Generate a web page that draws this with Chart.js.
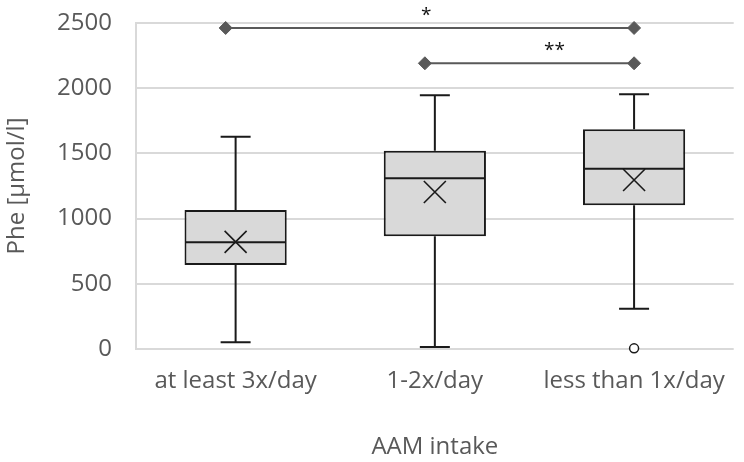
<!DOCTYPE html>
<html>
<head>
<meta charset="utf-8">
<script src="https://cdn.jsdelivr.net/npm/chart.js@4.4.1/dist/chart.umd.min.js"></script>
<style>
html,body{margin:0;padding:0;background:#fff;}
#wrap{width:744px;height:462px;position:relative;}
</style>
</head>
<body>
<div id="wrap"><canvas id="c"></canvas></div>
<script>
// ---- data ----
const categories = ['at least 3x/day', '1-2x/day', 'less than 1x/day'];
const whiskerMin = [51, 15, 309];
const q1         = [644, 864, 1102];
const median     = [818, 1309, 1383];
const q3         = [1066, 1521, 1685];
const whiskerMax = [1628, 1946, 1953];
const mean       = [822, 1204, 1296];
const outliers   = [[], [], [5]];

// significance brackets (x in category-index units)
const sig1X = [-0.05, 2.0];
const sig1Y = [2462, 2462];
const sig2X = [0.95, 2.0];
const sig2Y = [2191, 2191];
const sigLabels = ['*', '**'];
const sigLabelX = [0.957, 1.6];
const sigLabelY = [2462, 2191];

const yTicks = [0, 500, 1000, 1500, 2000, 2500];

const FONT = '"Open Sans", "DejaVu Sans", sans-serif';
const TXT = '#595959';

const boxPlugin = {
  id: 'boxParts',
  afterDatasetsDraw(chart) {
    const ctx = chart.ctx;
    const y = chart.scales.y;
    const x2 = chart.scales.x2;
    const meta = chart.getDatasetMeta(0);
    ctx.save();
    meta.data.forEach((bar, i) => {
      const cx = bar.x;
      const half = bar.width / 2;
      ctx.strokeStyle = '#1a1a1a';
      ctx.lineWidth = 2;
      ctx.lineCap = 'butt';
      const yMax = y.getPixelForValue(whiskerMax[i]);
      const yQ3 = y.getPixelForValue(q3[i]);
      const yQ1 = y.getPixelForValue(q1[i]);
      const yMin = y.getPixelForValue(whiskerMin[i]);
      ctx.beginPath();
      ctx.moveTo(cx, yMax); ctx.lineTo(cx, yQ3);
      ctx.moveTo(cx, yQ1); ctx.lineTo(cx, yMin);
      ctx.moveTo(cx - 15, yMax); ctx.lineTo(cx + 15, yMax);
      ctx.moveTo(cx - 15, yMin); ctx.lineTo(cx + 15, yMin);
      ctx.stroke();
      const yMed = y.getPixelForValue(median[i]);
      ctx.beginPath();
      ctx.moveTo(cx - half + 1, yMed); ctx.lineTo(cx + half - 1, yMed);
      ctx.stroke();
      const yMean = y.getPixelForValue(mean[i]);
      const s = 11;
      ctx.lineWidth = 1.6;
      ctx.beginPath();
      ctx.moveTo(cx - s, yMean - s); ctx.lineTo(cx + s, yMean + s);
      ctx.moveTo(cx - s, yMean + s); ctx.lineTo(cx + s, yMean - s);
      ctx.stroke();
      outliers[i].forEach(v => {
        ctx.beginPath();
        ctx.lineWidth = 1.5;
        ctx.arc(cx, y.getPixelForValue(v), 4.5, 0, Math.PI * 2);
        ctx.fillStyle = '#fff';
        ctx.fill();
        ctx.stroke();
      });
    });
    ctx.fillStyle = '#111';
    ctx.font = '19px ' + FONT;
    ctx.textAlign = 'center';
    ctx.textBaseline = 'alphabetic';
    sigLabels.forEach((t, i) => {
      ctx.fillText(t, x2.getPixelForValue(sigLabelX[i]), y.getPixelForValue(sigLabelY[i]) - 7);
    });
    ctx.restore();
  }
};

new Chart(document.getElementById('c'), {
  type: 'bar',
  data: {
    labels: categories,
    datasets: [
      {
        type: 'bar',
        data: q1.map((v, i) => [v, q3[i]]),
        backgroundColor: '#d9d9d9',
        borderColor: '#1a1a1a',
        borderWidth: 2,
        borderSkipped: false,
        barPercentage: 0.513,
        categoryPercentage: 1,
        grouped: false,
        xAxisID: 'x',
        order: 2
      },
      {
        type: 'line',
        data: sig1X.map((v, i) => ({x: v, y: sig1Y[i]})),
        xAxisID: 'x2',
        borderColor: '#595959',
        backgroundColor: '#595959',
        borderWidth: 2,
        pointStyle: 'rectRot',
        pointRadius: 6.5,
        pointBorderWidth: 1,
        clip: false,
        order: 1
      },
      {
        type: 'line',
        data: sig2X.map((v, i) => ({x: v, y: sig2Y[i]})),
        xAxisID: 'x2',
        borderColor: '#595959',
        backgroundColor: '#595959',
        borderWidth: 2,
        pointStyle: 'rectRot',
        pointRadius: 6.5,
        pointBorderWidth: 1,
        clip: false,
        order: 1
      }
    ]
  },
  options: {
    responsive: true,
    maintainAspectRatio: false,
    animation: false,
    layout: { padding: { left: 3, right: 6, top: 23, bottom: 0 } },
    plugins: { legend: { display: false }, tooltip: { enabled: false } },
    scales: {
      x: {
        type: 'category',
        grid: { display: false, drawTicks: false },
        border: { display: false },
        afterFit(scale) { scale.height = 113; },
        ticks: { color: TXT, font: { family: FONT, size: 24 }, padding: 18, maxRotation: 0, autoSkip: false },
        title: { display: true, text: 'AAM intake', color: TXT, font: { family: FONT, size: 24 }, padding: { top: 37, bottom: 0.6 } }
      },
      x2: {
        type: 'linear',
        display: false,
        offset: false,
        bounds: 'ticks',
        min: -0.5,
        max: 2.5
      },
      y: {
        min: 0,
        max: 2500,
        afterBuildTicks(scale) { scale.ticks = yTicks.map(v => ({ value: v })); },
        afterFit(scale) { scale.width = 133; scale.paddingTop = 0; scale.paddingBottom = 0; },
        grid: { color: '#d9d9d9', lineWidth: 2, drawTicks: false },
        border: { display: true, color: '#d9d9d9', width: 2 },
        ticks: { color: TXT, font: { family: FONT, size: 24 }, padding: 24, callback: v => String(v) },
        title: { display: true, text: 'Phe [µmol/l]', color: TXT, font: { family: FONT, size: 24 }, padding: { top: 0, bottom: 0 } }
      }
    }
  },
  plugins: [boxPlugin]
});
</script>
</body>
</html>
